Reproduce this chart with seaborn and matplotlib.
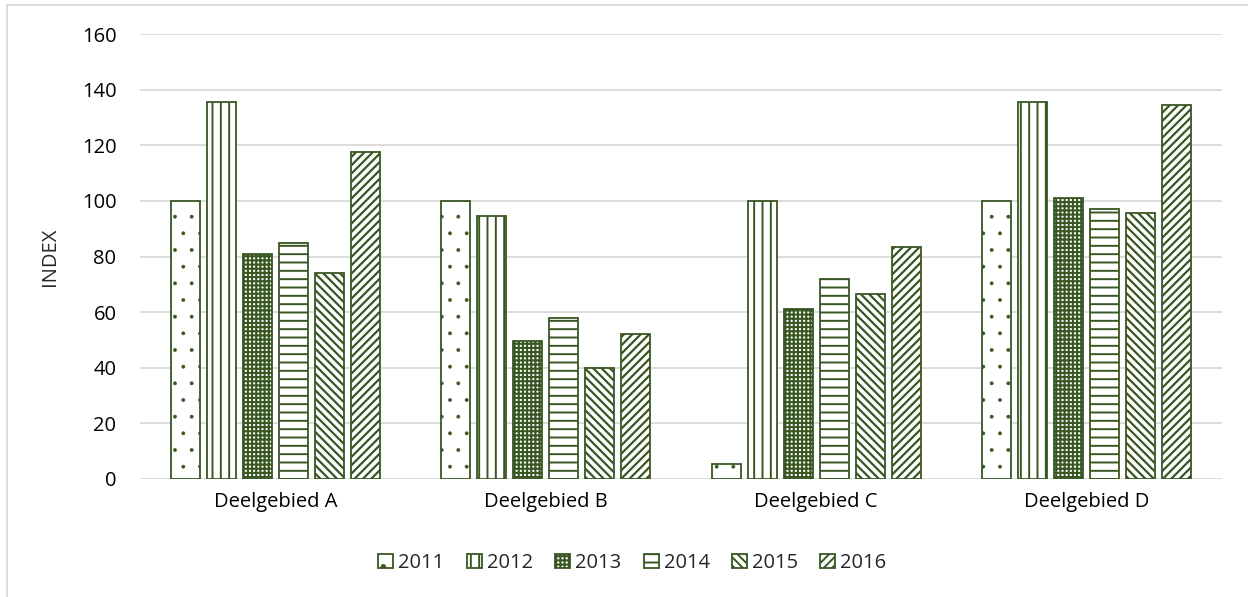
import numpy as np
import pandas as pd
import seaborn as sns
import matplotlib as mpl
import matplotlib.pyplot as plt
from matplotlib.lines import Line2D

# data
areas = ['Deelgebied A', 'Deelgebied B', 'Deelgebied C', 'Deelgebied D']
years = ['2011', '2012', '2013', '2014', '2015', '2016']
v2011 = [100, 100, 5.5, 100]
v2012 = [135.5, 94.5, 100, 135.5]
v2013 = [81, 49.5, 61, 101]
v2014 = [85, 58, 72, 97]
v2015 = [74, 40, 66.5, 95.5]
v2016 = [117.5, 52, 83.5, 134.5]
yticks = [0, 20, 40, 60, 80, 100, 120, 140, 160]

green = '#385723'
hatches = ['.', '||', '++++', '--', '\\\\\\\\', '////']
hatch_lw = [0.3, 1.4, 1.5, 1.4, 1.6, 1.6]

sns.set_style('white')
plt.rcParams['font.family'] = ['Open Sans', 'DejaVu Sans']
plt.rcParams['hatch.color'] = green
plt.rcParams['hatch.linewidth'] = 1.4

rows = []
for yr, vals in zip(years, [v2011, v2012, v2013, v2014, v2015, v2016]):
    for a, v in zip(areas, vals):
        rows.append({'area': a, 'year': yr, 'index': v})
df = pd.DataFrame(rows)

fig = plt.figure(figsize=(12.48, 5.97), dpi=100)
ax = fig.add_axes([140/1248, 1-479/597, (1222-140)/1248, (479-34)/597])

sns.barplot(data=df, x='area', y='index', hue='year', order=areas, hue_order=years,
            width=0.8, gap=0.2, palette=['white']*6,
            edgecolor=green, linewidth=1.3, ax=ax, legend=False, zorder=3)

for cont, h, lw in zip(ax.containers, hatches, hatch_lw):
    for p in cont:
        p.set_hatch(h)
        p.set_facecolor('white')
        p.set_edgecolor(green)
        if hasattr(p, 'set_hatch_linewidth'):
            p.set_hatch_linewidth(lw)
        else:
            p._hatch_linewidth = lw

ax.set_ylim(0, 160)
ax.set_xlim(-0.5, 3.5)
ax.set_yticks(yticks)
ax.yaxis.grid(True, color='#d9d9d9', linewidth=1.3, zorder=0)
ax.set_axisbelow(True)
for s in ax.spines.values():
    s.set_visible(False)
fs = 14.5
ax.tick_params(axis='both', length=0, labelsize=fs, colors='#000000')
ax.tick_params(axis='y', pad=17)
ax.tick_params(axis='x', pad=9)
ax.set_xlabel('')
ax.set_ylabel('INDEX', fontsize=fs, labelpad=16)

handles = [cont[0] for cont in ax.containers]
leg = ax.legend(handles, years, loc='center', bbox_to_anchor=(0.455, -0.189), ncol=6,
                frameon=False, fontsize=fs, handlelength=0.75, handleheight=0.75,
                handletextpad=0.25, columnspacing=1.1)

# outer chart frame (left and top edges visible)
fig.add_artist(Line2D([7/1248, 7/1248], [0, 1-5/597], transform=fig.transFigure,
                      color='#d9d9d9', linewidth=1.3))
fig.add_artist(Line2D([7/1248, 1], [1-5/597, 1-5/597], transform=fig.transFigure,
                      color='#d9d9d9', linewidth=1.3))

fig.savefig('out.png', dpi=100, facecolor='white')
